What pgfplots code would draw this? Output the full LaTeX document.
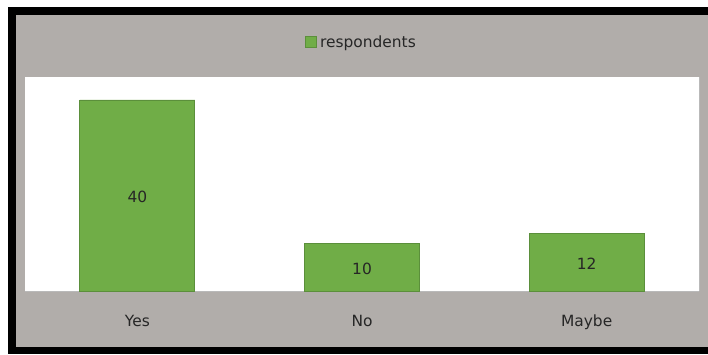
\documentclass[border=0pt]{standalone}
\usepackage{pgfplots}
\pgfplotsset{compat=1.18}
\usepackage{fontspec}
\setmainfont{DejaVu Sans}
\definecolor{bggray}{HTML}{B1ADAA}
\definecolor{bargreen}{HTML}{70AD47}
\definecolor{bardark}{HTML}{5B8F3B}
\begin{document}
\begin{tikzpicture}[x=1bp,y=1bp]
\path (0,0) rectangle (708,354);
\fill[black] (8,0) rectangle (708,347);
\fill[bggray] (16,7) rectangle (708,339);
\begin{axis}[
  at={(25bp,63bp)}, anchor=south west,
  scale only axis, width=674bp, height=214bp,
  xmin=-0.5, xmax=2.5, ymin=0, ymax=44.8,
  axis background/.style={fill=white},
  axis x line*=bottom, axis y line=none,
  x axis line style={draw=gray!55, line width=1bp, -},
  xtick={0,1,2}, xticklabels={Yes,No,Maybe},
  major tick length=0pt,
  xticklabel style={anchor=base, yshift=-35bp, font=\fontsize{15.5}{17}\selectfont, text=black!85},
  legend style={at={(0.5,1.1636)}, anchor=center, draw=none, fill=none,
    font=\fontsize{15.5}{17}\selectfont, text=black!85, inner sep=0pt,
    nodes={inner xsep=3bp}, legend cell align=left},
  legend image code/.code={\draw[#1,line width=0.8bp] (0bp,-5.5bp) rectangle (11bp,5.5bp);},
  clip=false,
]
\addplot[ybar, bar width=115bp, fill=bargreen, draw=bardark, line width=0.8bp]
  coordinates {(0,40) (1,10) (2,12)};
\addlegendentry{respondents}
\addplot[only marks, mark=none, forget plot,
  point meta=explicit symbolic,
  nodes near coords,
  every node near coord/.append style={anchor=center, inner sep=0pt, yshift=-1.5bp, font=\fontsize{15.5}{17}\selectfont, text=black!85}]
  coordinates {(0,20) [40] (1,5) [10] (2,6) [12]};
\draw[gray!55, line width=1bp] (rel axis cs:1,0) -- (rel axis cs:1,1);
\end{axis}
\end{tikzpicture}
\end{document}
